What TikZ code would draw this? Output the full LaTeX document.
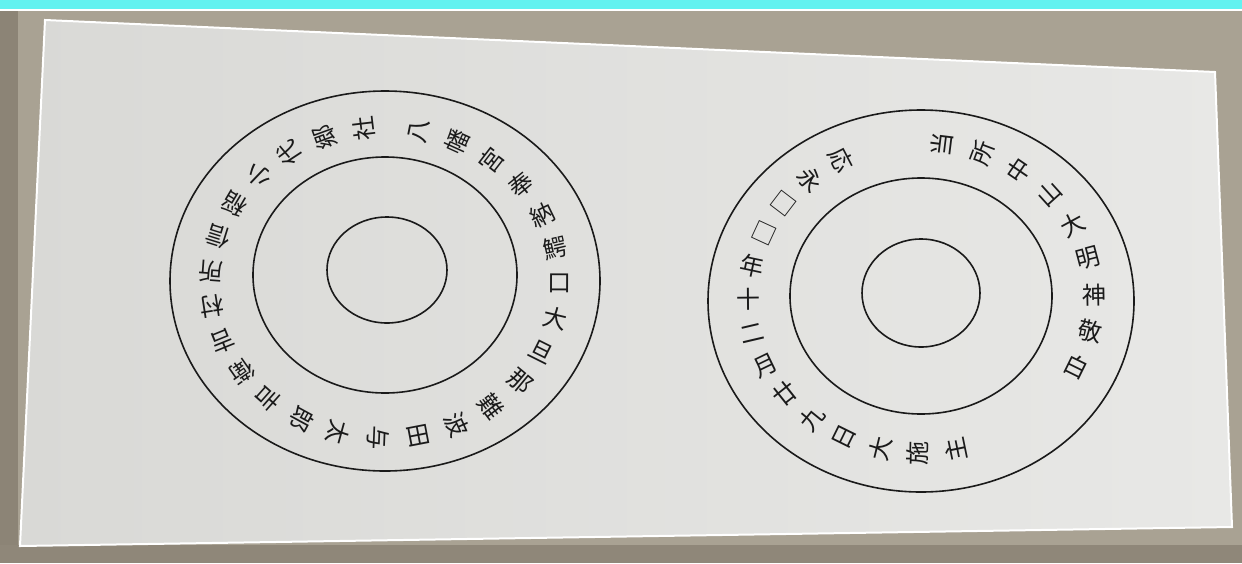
\documentclass[tikz,border=0pt]{standalone}
\usepackage{fontspec}
\newfontfamily\jp{Noto Sans CJK JP}
\definecolor{cyanbar}{HTML}{62F2F0}
\definecolor{wall}{HTML}{A9A293}
\definecolor{walldark}{HTML}{8C8476}
\definecolor{boardL}{HTML}{D9D9D6}
\definecolor{boardR}{HTML}{E8E8E6}
\definecolor{ink}{HTML}{1A1A1A}
\tikzset{
  ring/.style={draw=ink, line width=1.6pt},
  glyph/.style={font=\fontsize{24}{24}\jp, text=ink, inner sep=0pt},
}
\begin{document}
\begin{tikzpicture}[x=1pt,y=-1pt]
\useasboundingbox (0,0) rectangle (1242,563);
% photo background
\fill[wall] (0,0) rectangle (1242,563);
\fill[walldark] (0,10) rectangle (18,563);
\fill[walldark!90!wall] (0,545) rectangle (1242,563);
% board
\shade[left color=boardL, right color=boardR] (45,20) -- (1215,72) -- (1232,527) -- (20,546) -- cycle;
\draw[white, line width=2pt] (45,20) -- (1215,72) -- (1232,527) -- (20,546) -- cycle;
% cyan bar
\fill[cyanbar] (0,0) rectangle (1242,9);
\fill[white] (0,9) rectangle (1242,11);
% left disc
\coordinate (cL) at (385,283);
\draw[ring] (385,281) ellipse [x radius=215pt, y radius=190pt];
\draw[ring] (385,275) ellipse [x radius=132pt, y radius=118pt];
\draw[ring] (387,270) ellipse [x radius=60pt, y radius=53pt];
\foreach \ch [count=\i from 0] in {八,幡,宮,奉,納,鰐,口,大,旦,那,難,波,田,与,太,郎,吉,衛,吉,村,所,信,稲,小,代,郷,社}{
  \pgfmathsetmacro{\t}{78.7-13.15*\i}
  \path (cL) ++(\t:175pt and 155pt) node[glyph, rotate=\t] (L\i) {\ch};
}
% right disc
\coordinate (cR) at (921,298);
\draw[ring] (921,301) ellipse [x radius=213pt, y radius=191pt];
\draw[ring] (921,296) ellipse [x radius=131pt, y radius=118pt];
\draw[ring] (921,293) ellipse [x radius=59pt, y radius=54pt];
\foreach \ch [count=\i from 0] in {応,永,□,□,年,十,二,月,廿,九,日,大,施,主}{
  \pgfmathsetmacro{\t}{117.4+12.63*\i}
  \pgfmathsetmacro{\r}{\t-180}
  \path (cR) ++(\t:173pt and 155pt) node[glyph, rotate=\r] (A\i) {\ch};
}
\foreach \ch [count=\i from 0] in {当,所,中,山,大,明,神,敬,白}{
  \pgfmathsetmacro{\t}{83-13.65*\i}
  \path (cR) ++(\t:173pt and 155pt) node[glyph, rotate=\t] (B\i) {\ch};
}
\end{tikzpicture}
\end{document}
